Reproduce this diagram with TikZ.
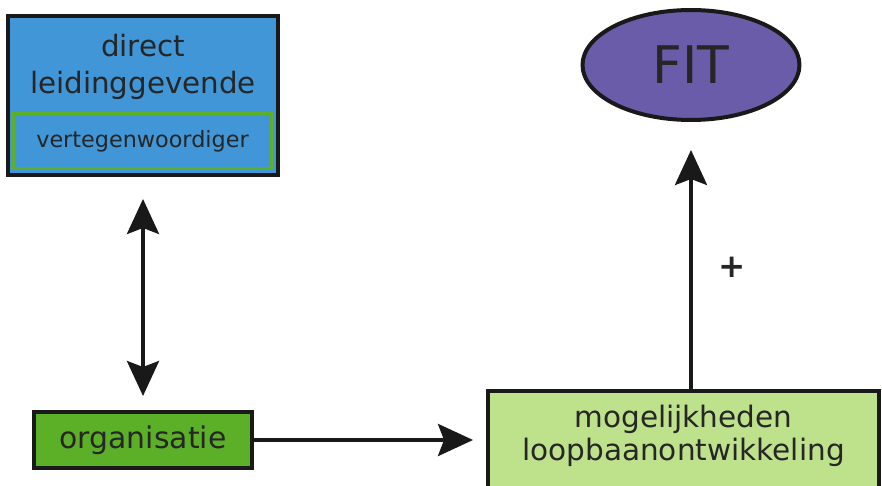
\documentclass[tikz,border=0pt]{standalone}
\usepackage{fontspec}
\setmainfont{DejaVu Sans}
\usetikzlibrary{shapes, arrows, arrows.meta, positioning}
\definecolor{blauw}{RGB}{64,150,214}
\definecolor{groen}{RGB}{92,176,40}
\definecolor{lichtgroen}{RGB}{190,225,140}
\definecolor{paars}{RGB}{106,92,168}
\tikzstyle{blok} = [draw=black!90, line width=0.08cm, rectangle, inner sep=0pt, align=center, text=black!85]
\tikzstyle{pijl} = [line width=0.08cm, draw=black!90, >={Stealth[length=0.7cm, width=0.64cm, inset=0.12cm]}]

\begin{document}
\begin{tikzpicture}[x=0.02cm, y=-0.02cm]
	\useasboundingbox (0,0) rectangle (882,486);
	% leidinggevende met vertegenwoordiger
	\node[blok, fill=blauw, minimum width=5.42cm, minimum height=3.18cm] (leiding) at (143,95.5) {};
	\node[text=black!85, align=center, font=\fontsize{16.7}{21.5}\selectfont] (leidingtekst) at (143,67) {direct\\leidinggevende};
	\node[draw=groen, line width=0.07cm, fill=blauw, inner sep=0pt, text=black!85, minimum width=5.18cm, minimum height=1.1cm, font=\fontsize{12.7}{15}\selectfont] (vert) at (142.5,141) {vertegenwoordiger};
	% FIT
	\node[ellipse, draw=black!90, line width=0.08cm, fill=paars, text=black!85, minimum width=4.34cm, minimum height=2.2cm, font=\fontsize{29.5}{34}\selectfont] (fit) at (691,65) {FIT};
	% organisatie en loopbaan
	\node[blok, fill=groen, minimum width=4.36cm, minimum height=1.12cm, font=\fontsize{17}{20}\selectfont] (org) at (143,440) {organisatie};
	\node[blok, fill=lichtgroen, minimum width=7.82cm, minimum height=1.98cm] (mog) at (683.5,440.5) {};
	\node[text=black!85, align=center, font=\fontsize{16.8}{18.5}\selectfont] (mogtekst) at (683.5,436) {mogelijkheden\\loopbaanontwikkeling};
	% pijlen
	\draw[pijl, <->, shorten <=0.44cm, shorten >=0.28cm] (leiding) -- (org);
	\draw[pijl, ->, shorten >=0.26cm] (org) -- (org -| mog.west);
	\draw[pijl, ->, shorten >=0.56cm] (mog.north -| fit) -- (fit.south);
	\node[font=\fontsize{18.5}{22}\selectfont\bfseries, text=black!85] (plus) at (732,267) {+};
\end{tikzpicture}
\end{document}
